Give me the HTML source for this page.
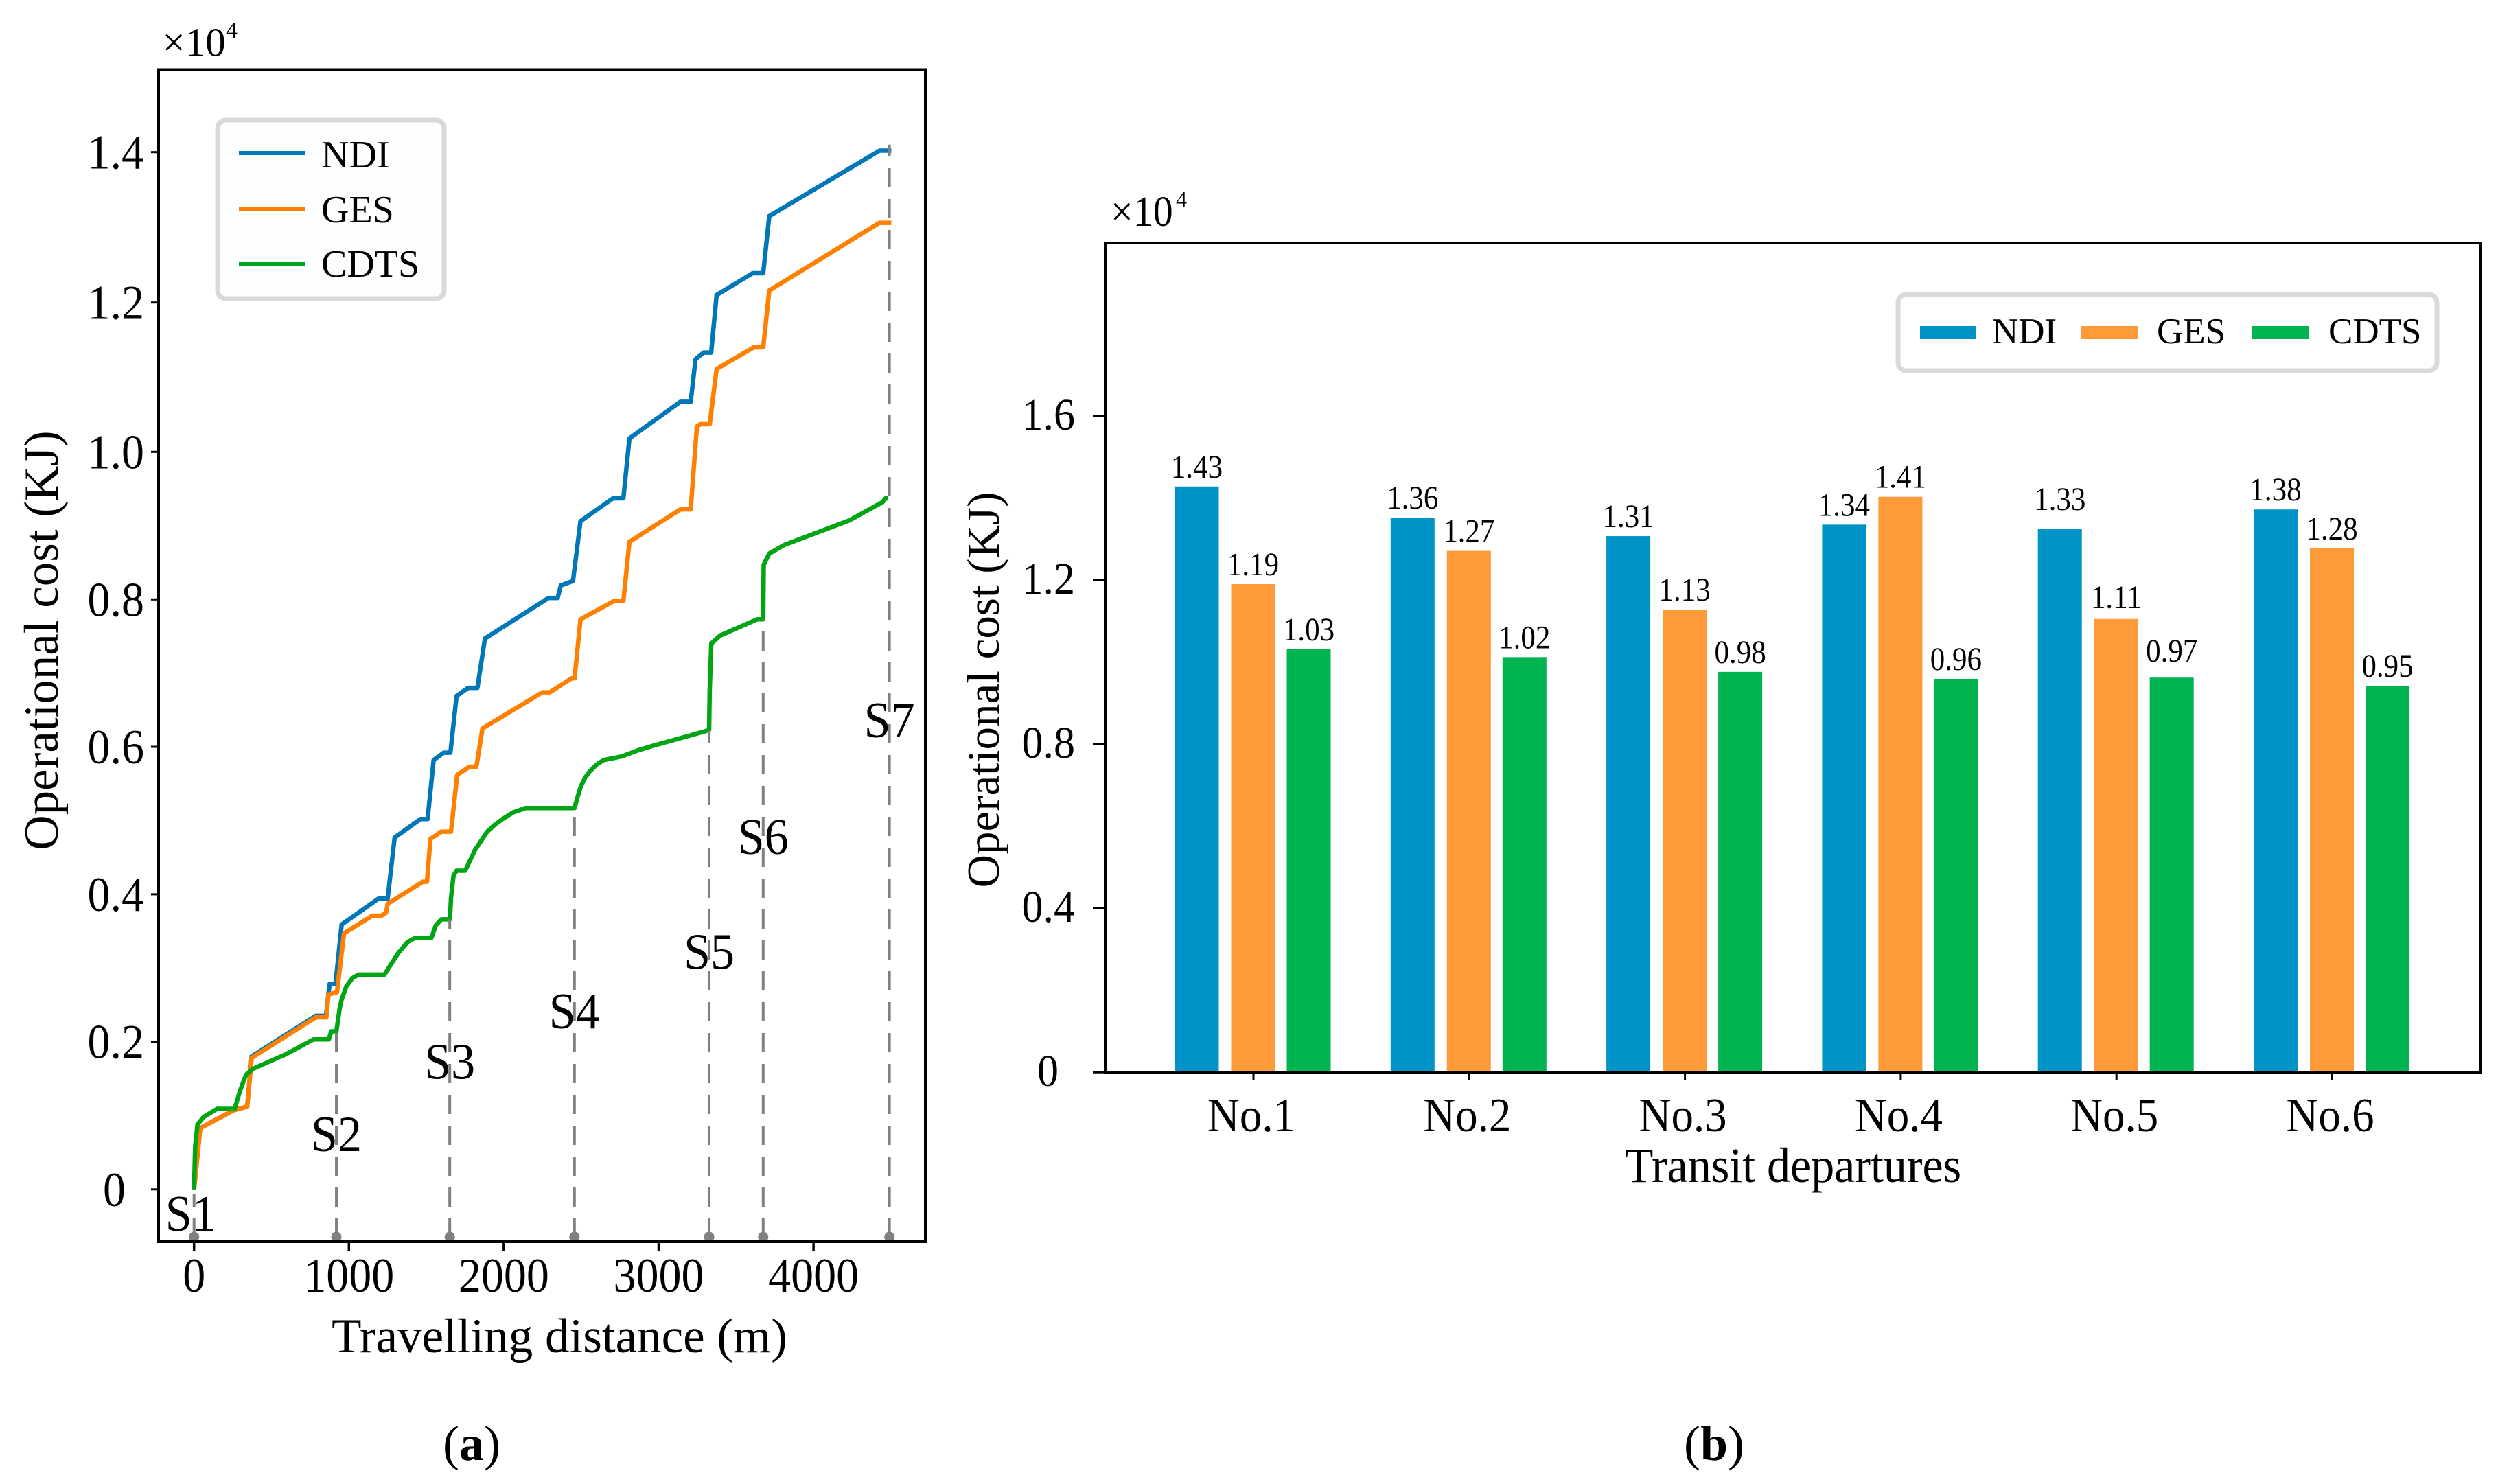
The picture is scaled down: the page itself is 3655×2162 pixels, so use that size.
<!DOCTYPE html>
<html lang="en">
<head>
<meta charset="utf-8">
<title>Operational cost charts</title>
<style>
html,body{margin:0;padding:0;background:#fff;width:3655px;height:2162px;overflow:hidden}
svg{display:block}
text{font-family:"Liberation Serif","Times New Roman",serif;fill:#000}
</style>
</head>
<body>
<svg id="fig" xmlns="http://www.w3.org/2000/svg" width="3655" height="2162" viewBox="0 0 3655 2162">
  <rect x="0" y="0" width="3655" height="2162" fill="#fff"/>
  <g id="chartA"></g>
  <g id="chartB"></g>
</svg>
<script>
// ---- Chart (a) data: distance in m, cost in 10^4 KJ ----
const distNDI = [0,40,254,343,372,786,852,875,913,953,1190,1250,1295,1462,1508,1547,1612,1655,1695,1770,1830,1878,2289,2348,2368,2447,2495,2705,2772,2811,3140,3207,3238,3291,3339,3374,3607,3675,3714,4426,4502];
const costNDI = [0,0.083,0.107,0.112,0.18,0.235,0.235,0.278,0.278,0.359,0.394,0.394,0.477,0.502,0.502,0.582,0.592,0.592,0.669,0.680,0.680,0.747,0.802,0.802,0.819,0.825,0.906,0.937,0.937,1.018,1.067,1.067,1.124,1.133,1.133,1.210,1.239,1.239,1.315,1.402,1.402];
const distGES = [0,40,254,343,372,786,854,868,923,968,1151,1210,1240,1250,1477,1504,1526,1597,1659,1699,1779,1823,1862,2249,2297,2438,2457,2495,2713,2772,2811,3140,3207,3247,3270,3330,3374,3615,3675,3714,4426,4502];
const costGES = [0,0.083,0.107,0.112,0.178,0.233,0.233,0.264,0.267,0.347,0.371,0.371,0.375,0.387,0.417,0.417,0.475,0.485,0.485,0.562,0.573,0.573,0.625,0.674,0.674,0.693,0.693,0.773,0.798,0.798,0.878,0.922,0.922,1.034,1.037,1.037,1.111,1.140,1.140,1.216,1.306,1.306];
const distCDTS = [0,7,22,62,148,262,298,335,379,594,771,870,886,919,941,953,983,1022,1061,1229,1318,1378,1428,1533,1561,1597,1652,1659,1675,1695,1751,1814,1893,1940,1992,2060,2141,2457,2475,2497,2525,2556,2600,2645,2763,2863,2958,3299,3326,3330,3340,3397,3636,3675,3678,3714,3812,4230,4447,4465,4482];
const costCDTS = [0,0.058,0.088,0.098,0.109,0.109,0.134,0.155,0.163,0.183,0.203,0.203,0.214,0.214,0.246,0.257,0.275,0.286,0.291,0.291,0.320,0.335,0.341,0.341,0.358,0.366,0.366,0.395,0.425,0.432,0.432,0.460,0.485,0.494,0.502,0.511,0.517,0.517,0.531,0.546,0.558,0.567,0.576,0.582,0.587,0.595,0.601,0.621,0.623,0.677,0.740,0.751,0.773,0.773,0.847,0.862,0.874,0.907,0.932,0.937,0.937];
const stopNames = ["S1","S2","S3","S4","S5","S6","S7"];
const stopDist = [0,919,1651,2456,3326,3675,4490];
const stopTop = [0,0.214,0.366,0.517,0.623,0.773,1.41];
const stopLabelValue = [-0.056,0.052,0.150,0.218,0.299,0.455,0.613];
const xTicksA = [0,1000,2000,3000,4000];
const yTicksA = [0,0.2,0.4,0.6,0.8,1.0,1.2,1.4];
const yTickLabelsA = ["0","0.2","0.4","0.6","0.8","1.0","1.2","1.4"];
const seriesNames = ["NDI","GES","CDTS"];

// ---- Chart (b) data: cost in 10^4 KJ ----
const departures = ["No.1","No.2","No.3","No.4","No.5","No.6"];
const barNDI = [1.428,1.352,1.307,1.335,1.324,1.372];
const barGES = [1.19,1.271,1.128,1.403,1.105,1.277];
const barCDTS = [1.031,1.012,0.976,0.959,0.962,0.942];
const labelNDI = ["1.43","1.36","1.31","1.34","1.33","1.38"];
const labelGES = ["1.19","1.27","1.13","1.41","1.11","1.28"];
const labelCDTS = ["1.03","1.02","0.98","0.96","0.97","0.95"];
const yTicksB = [0,0.4,0.8,1.2,1.6];
const yTickLabelsB = ["0","0.4","0.8","1.2","1.6"];

const NS = "http://www.w3.org/2000/svg";
function mk(parent, tag, attrs, txt) {
  const el = document.createElementNS(NS, tag);
  for (const k in attrs) el.setAttribute(k, attrs[k]);
  if (txt !== undefined) el.textContent = txt;
  parent.appendChild(el);
  return el;
}
function slug(s) { return String(s).toLowerCase().replace(/[^a-z0-9]+/g, '-'); }
function tf(x, y, sy) { return 'translate(' + x + ',' + y + ') scale(1,' + sy + ')'; }

// ================= Chart (a) =================
const A = document.getElementById('chartA');
const ax = d => 282.7 + 0.2256 * d;
// y axis calibration: the reference's tick spacing is slightly uneven, so map piecewise
const axisValuesA = [0,0.2,0.4,0.6,0.8,1.0,1.2,1.4];
const axisPixelsA = [1732.8,1517.5,1302.9,1088,873.3,658.3,440.7,221.7];
function ay(v) {
  let k = Math.floor(v / 0.2);
  k = Math.max(0, Math.min(axisValuesA.length - 2, k));
  const f = (v - axisValuesA[k]) / (axisValuesA[k + 1] - axisValuesA[k]);
  return axisPixelsA[k] + f * (axisPixelsA[k + 1] - axisPixelsA[k]);
}
const lineColors = ["#0077b7", "#ff8000", "#00a513"];
const lineDist = [distNDI, distGES, distCDTS];
const lineCost = [costNDI, costGES, costCDTS];

lineDist.forEach((ds, i) => {
  const pts = ds.map((d, j) => ax(d).toFixed(1) + ',' + ay(lineCost[i][j]).toFixed(1)).join(' ');
  const pl = mk(A, 'polyline', {points: pts, fill: 'none', stroke: lineColors[i], 'stroke-width': 6.5, 'stroke-linejoin': 'round'});
  
  
});

stopNames.forEach((name, i) => {
  const t = mk(A, 'text', {transform: tf(ax(stopDist[i]) + (i === 0 ? -5 : 0), ay(stopLabelValue[i]), 1.06), 'font-size': 70, 'text-anchor': 'middle'}, name);
  
  
  const l = mk(A, 'line', {x1: ax(stopDist[i]), x2: ax(stopDist[i]), y1: 1803, y2: ay(stopTop[i]) - (i === 0 ? -7 : 0), stroke: '#808080', 'stroke-width': 4, 'stroke-dasharray': '28 17'});
  
  
  const c = mk(A, 'circle', {cx: ax(stopDist[i]), cy: 1802, r: 7.5, fill: '#808080'});
  
  
});

const frameA = mk(A, 'rect', {x: 231, y: 101.5, width: 1117, height: 1707.5, fill: 'none', stroke: '#000', 'stroke-width': 4});



xTicksA.forEach(t => {
  const tk = mk(A, 'line', {x1: ax(t), x2: ax(t), y1: 1809, y2: 1822, stroke: '#000', 'stroke-width': 3.5});
  
  
  const lb = mk(A, 'text', {transform: tf(ax(t), 1882, 1.07), 'font-size': 66, 'text-anchor': 'middle'}, String(t));
  
  
});
yTicksA.forEach((t, i) => {
  const tk = mk(A, 'line', {x1: 220, x2: 231, y1: ay(t), y2: ay(t), stroke: '#000', 'stroke-width': 3});
  
  
  const lb = mk(A, 'text', {transform: tf(i === 0 ? 183 : 210, ay(t) + 24, 1.07), 'font-size': 66, 'text-anchor': 'end'}, yTickLabelsA[i]);
  
  
});

const xTitleA = mk(A, 'text', {x: 815, y: 1970, 'font-size': 71, 'text-anchor': 'middle'}, 'Travelling distance (m)');


const yTitleA = mk(A, 'text', {transform: 'translate(84,933) rotate(-90)', 'font-size': 71, 'text-anchor': 'middle'}, 'Operational cost (KJ)');


const expA = mk(A, 'text', {x: 236.5, y: 81.7, 'font-size': 59}, '×10');


const expA4 = mk(A, 'text', {x: 329, y: 55, 'font-size': 34}, '4');



const legA = mk(A, 'rect', {x: 317, y: 175, width: 330, height: 260, rx: 12, fill: '#fdfefe', stroke: '#d9d9d9', 'stroke-width': 7});


const legYA = [223, 304, 385];
const legBaseA = [244, 324, 403];
seriesNames.forEach((n, i) => {
  const l = mk(A, 'line', {x1: 348, x2: 445, y1: legYA[i], y2: legYA[i], stroke: lineColors[i], 'stroke-width': 6});
  
  
  const t = mk(A, 'text', {x: 468, y: legBaseA[i], 'font-size': 56}, n);
  
  
});

const capA = mk(A, 'text', {x: 687, y: 2127, 'font-size': 72, 'text-anchor': 'middle'});


capA.innerHTML = '(<tspan font-weight="bold">a</tspan>)';

// ================= Chart (b) =================
const B = document.getElementById('chartB');
const by = v => 1562 - 597.5 * v;
const groupX = i => 1826 + 314.3 * i;
const barColors = ["#0093c8", "#fe9a37", "#00b551"];
const barSeries = [barNDI, barGES, barCDTS];
const barLabels = [labelNDI, labelGES, labelCDTS];
const barOffset = [-82, 0, 81];
const barW = 64;

barSeries.forEach((vals, s) => {
  vals.forEach((v, i) => {
    const cx = groupX(i) + barOffset[s] - 0.5;
    const r = mk(B, 'rect', {x: cx - barW / 2, y: by(v), width: barW, height: 1562 - by(v), fill: barColors[s]});
    
    
    let gap = 13;
    if (i === 4) gap = s === 0 ? 28 : (s === 2 ? 23 : 16);
    const t = mk(B, 'text', {transform: tf(cx, by(v) - gap, 1.1), 'font-size': 43, 'text-anchor': 'middle'}, barLabels[s][i]);
    
    
  });
});

const frameB = mk(B, 'rect', {x: 1610, y: 354, width: 2004, height: 1208, fill: 'none', stroke: '#000', 'stroke-width': 4});



departures.forEach((d, i) => {
  const tk = mk(B, 'line', {x1: groupX(i), x2: groupX(i), y1: 1562, y2: 1573, stroke: '#000', 'stroke-width': 3});
  
  
  const lb = mk(B, 'text', {transform: tf(groupX(i) - 3, 1648, 1.08), 'font-size': 65, 'text-anchor': 'middle'}, d);
  
  
});
yTicksB.forEach((t, i) => {
  const tk = mk(B, 'line', {x1: 1592, x2: 1610, y1: by(t), y2: by(t), stroke: '#000', 'stroke-width': 3.5});
  
  
  const lb = mk(B, 'text', {transform: tf(i === 0 ? 1542 : 1566, by(t) + 20, 1.06), 'font-size': 62, 'text-anchor': 'end'}, yTickLabelsB[i]);
  
  
});

const xTitleB = mk(B, 'text', {transform: tf(2612, 1722, 1.06), 'font-size': 68, 'text-anchor': 'middle'}, 'Transit departures');


const yTitleB = mk(B, 'text', {transform: 'translate(1455,1005) rotate(-90)', 'font-size': 67, 'text-anchor': 'middle'}, 'Operational cost (KJ)');


const expB = mk(B, 'text', {transform: tf(1618, 329, 1.08), 'font-size': 58}, '×10');


const expB4 = mk(B, 'text', {x: 1713, y: 301, 'font-size': 32}, '4');



const legB = mk(B, 'rect', {x: 2765, y: 429, width: 785, height: 111, rx: 12, fill: '#fff', stroke: '#d9d9d9', 'stroke-width': 7});


const legPatchX = [2797, 3032, 3281];
const legTextX = [2902, 3142, 3392];
seriesNames.forEach((n, i) => {
  const p = mk(B, 'rect', {x: legPatchX[i], y: 475, width: 82, height: 19, fill: barColors[i]});
  
  
  const t = mk(B, 'text', {x: legTextX[i], y: 500, 'font-size': 53}, n);
  
  
});

const capB = mk(B, 'text', {x: 2497, y: 2127, 'font-size': 72, 'text-anchor': 'middle'});


capB.innerHTML = '(<tspan font-weight="bold">b</tspan>)';
</script>
</body>
</html>
